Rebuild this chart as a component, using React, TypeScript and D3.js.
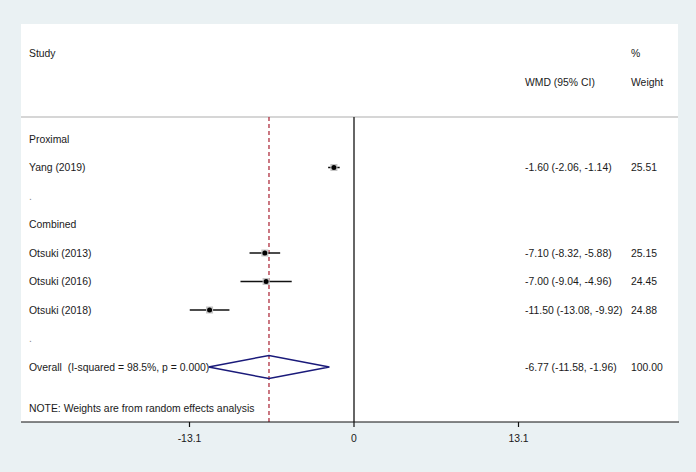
import React from "react";
import * as d3 from "d3";

const rowLabels = ["Proximal", "Yang (2019)", ".", "Combined", "Otsuki (2013)", "Otsuki (2016)", "Otsuki (2018)", ".", "Overall  (I-squared = 98.5%, p = 0.000)"];
const studyRows = [1, 4, 5, 6];
const estimates = [-1.6, -7.1, -7.0, -11.5];
const lowers = [-2.06, -8.32, -9.04, -13.08];
const uppers = [-1.14, -5.88, -4.96, -9.92];
const weights = [25.51, 25.15, 24.45, 24.88];
const overall = { row: 8, est: -6.77, lo: -11.58, hi: -1.96, weight: 100.0 };
const tickValues = [-13.1, 0, 13.1];

const W = 696;
const H = 472;
const FONT = "'Liberation Sans', Arial, sans-serif";
const FS = 10.4;

export default function App() {
  const panel = { x0: 21, x1: 678, y0: 24, y1: 422 };
  const x = d3.scaleLinear().domain([-13.1, 13.1]).range([189.5, 518.5]);
  const y = d3.scaleLinear().domain([0, 8]).range([139, 367]);
  const headerY = 117;
  const textX = 29;
  const wmdX = 525;
  const wX = 631;
  const fmt = (v: number) => v.toFixed(2);
  const ciText = (e: number, l: number, h: number) => `${fmt(e)} (${fmt(l)}, ${fmt(h)})`;

  const diamond = d3.line<[number, number]>()([
    [x(overall.lo), y(overall.row)],
    [x(overall.est), y(overall.row) - 11.5],
    [x(overall.hi), y(overall.row)],
    [x(overall.est), y(overall.row) + 11.5],
    [x(overall.lo), y(overall.row)],
  ]);

  const txt = { fontSize: FS, dy: "0.35em", fill: "#1a1a1a", style: { whiteSpace: "pre" as const } };

  return (
    <svg width={W} height={H} style={{ position: "absolute", left: 0, top: 0 }} fontFamily={FONT}>
      <rect x={0} y={0} width={W} height={H} fill="#eaf1f3" />
      <rect x={panel.x0} y={panel.y0} width={panel.x1 - panel.x0} height={panel.y1 - panel.y0} fill="#ffffff" />
      {/* header separator */}
      <line x1={panel.x0} x2={panel.x1} y1={headerY} y2={headerY} stroke="#c8c8c8" strokeWidth={1.5} />
      {/* headers */}
      <text x={textX} y={53} {...txt}>Study</text>
      <text x={wX} y={53} {...txt}>%</text>
      <text x={wmdX} y={82} {...txt}>WMD (95% CI)</text>
      <text x={wX} y={82} {...txt}>Weight</text>
      {/* zero line */}
      <line x1={x(0)} x2={x(0)} y1={headerY} y2={panel.y1} stroke="#333" strokeWidth={1.5} />
      {/* overall dashed line */}
      <line x1={x(overall.est)} x2={x(overall.est)} y1={headerY} y2={panel.y1} stroke="#b03040" strokeWidth={1.3} strokeDasharray="4,3" />
      {/* row labels */}
      {rowLabels.map((t, i) => (
        <text key={i} x={textX} y={y(i)} {...txt} fill={t === "." ? "#888" : "#1a1a1a"}>{t}</text>
      ))}
      {/* studies */}
      {studyRows.map((r, i) => (
        <g key={r}>
          <line x1={x(lowers[i])} x2={x(uppers[i])} y1={y(r)} y2={y(r)} stroke="#111" strokeWidth={1.5} />
          <rect x={x(estimates[i]) - 3.5} y={y(r) - 3.5} width={7} height={7} fill="#c4c4c4" />
          <circle cx={x(estimates[i])} cy={y(r)} r={2.5} fill="#000" />
          <text x={wmdX} y={y(r)} {...txt}>{ciText(estimates[i], lowers[i], uppers[i])}</text>
          <text x={wX} y={y(r)} {...txt}>{fmt(weights[i])}</text>
        </g>
      ))}
      {/* overall diamond */}
      <path d={diamond ?? ""} fill="none" stroke="#1a1a7a" strokeWidth={1.5} />
      <text x={wmdX} y={y(overall.row)} {...txt}>{ciText(overall.est, overall.lo, overall.hi)}</text>
      <text x={wX} y={y(overall.row)} {...txt}>{fmt(overall.weight)}</text>
      {/* note */}
      <text x={textX} y={408} {...txt}>NOTE: Weights are from random effects analysis</text>
      {/* axis */}
      <line x1={panel.x0} x2={panel.x1 + 1} y1={panel.y1} y2={panel.y1} stroke="#111" strokeWidth={1.2} />
      {tickValues.map((v) => (
        <g key={v}>
          <line x1={x(v)} x2={x(v)} y1={panel.y1} y2={panel.y1 + 5} stroke="#111" strokeWidth={1.2} />
          <text x={x(v)} y={438} {...txt} textAnchor="middle">{v === 0 ? "0" : v.toFixed(1)}</text>
        </g>
      ))}
    </svg>
  );
}
